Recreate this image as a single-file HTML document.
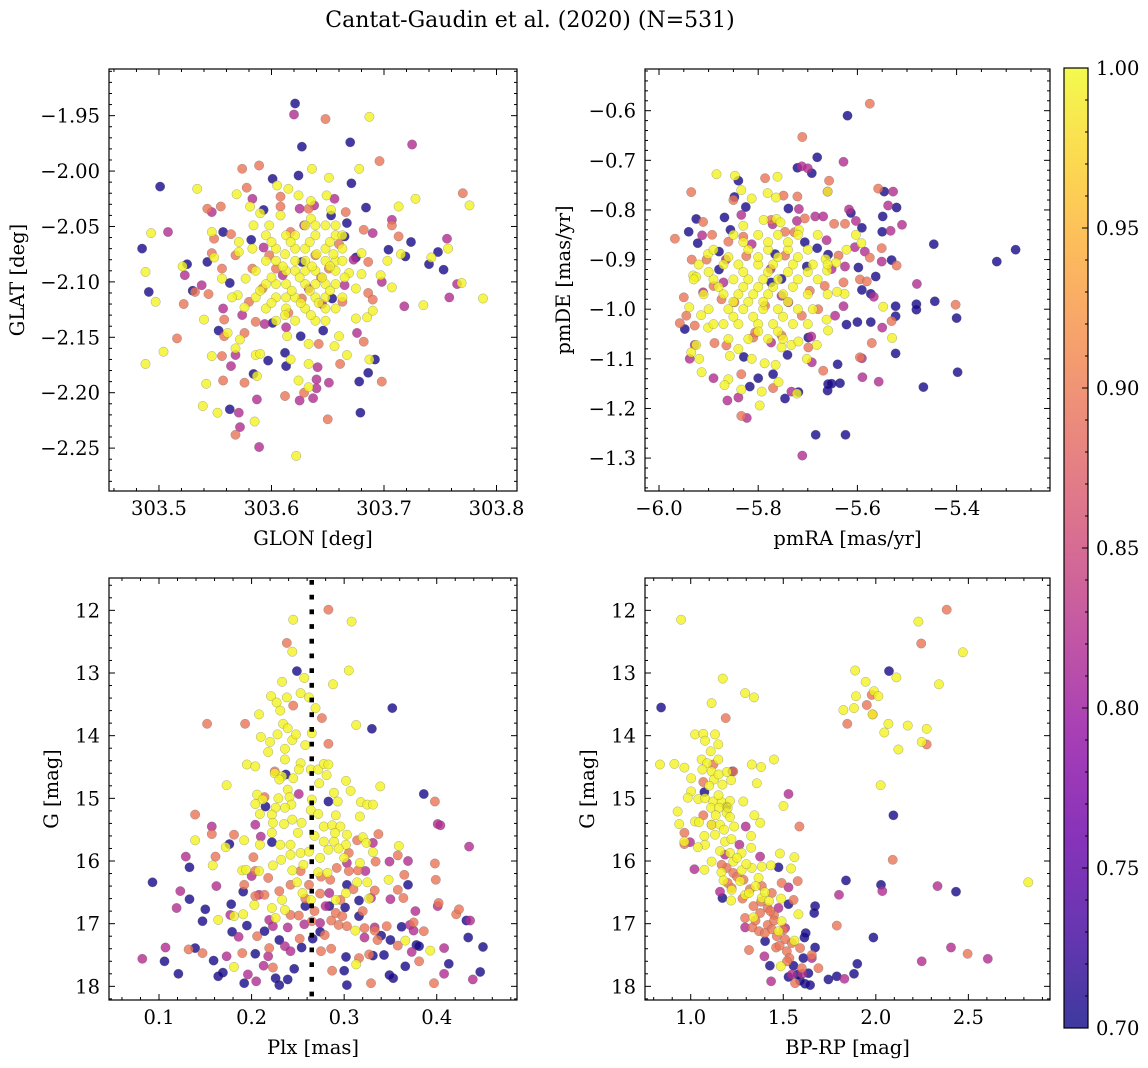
<!DOCTYPE html>
<html><head><meta charset="utf-8"><title>Cantat-Gaudin et al. (2020)</title>
<style>
html,body{margin:0;padding:0;background:#fff;}
svg{display:block;font-family:"DejaVu Serif","Liberation Serif",serif;}
</style></head>
<body>
<svg id="fig" width="1148" height="1068" viewBox="0 0 1148 1068" xmlns="http://www.w3.org/2000/svg">
<defs>
<linearGradient id="cbgrad" x1="0" y1="1" x2="0" y2="0">
<stop offset="0" stop-color="#0d0887"/><stop offset="0.1" stop-color="#41049d"/><stop offset="0.2" stop-color="#6a00a8"/><stop offset="0.3" stop-color="#8f0da4"/><stop offset="0.4" stop-color="#b12a90"/><stop offset="0.5" stop-color="#cc4778"/><stop offset="0.6" stop-color="#e16462"/><stop offset="0.7" stop-color="#f2844b"/><stop offset="0.8" stop-color="#fca636"/><stop offset="0.9" stop-color="#fcce25"/><stop offset="1" stop-color="#f0f921"/>
</linearGradient>
</defs>
<text x="530" y="27" font-size="22" text-anchor="middle">Cantat-Gaudin et al. (2020) (N=531)</text>
</svg>
<script>
// Probabilities per colour group
const probDark = 0.705, probPurple = 0.82, probSalmon = 0.895, probYellow = 0.995;

// Panel 1: GLON [deg], GLAT [deg]
const p1Dark = [[303.621,-1.939],[303.627,-1.978],[303.670,-1.974],[303.501,-2.014],[303.485,-2.070],[303.491,-2.109],[303.601,-2.007],[303.624,-2.004],[303.671,-2.011],[303.684,-2.033],[303.667,-2.047],[303.557,-2.055],[303.582,-2.062],[303.593,-2.035],[303.525,-2.084],[303.543,-2.082],[303.563,-2.101],[303.530,-2.108],[303.704,-2.071],[303.719,-2.077],[303.724,-2.064],[303.740,-2.084],[303.748,-2.073],[303.753,-2.089],[303.553,-2.144],[303.597,-2.171],[303.612,-2.164],[303.613,-2.176],[303.626,-2.149],[303.646,-2.144],[303.584,-2.183],[303.563,-2.215],[303.678,-2.190],[303.679,-2.218],[303.686,-2.182],[303.692,-2.170],[303.601,-2.137],[303.627,-2.082],[303.653,-2.040],[303.665,-2.059],[303.654,-2.115],[303.675,-2.078]];
const p1Purple = [[303.620,-1.949],[303.725,-1.976],[303.583,-2.025],[303.547,-2.037],[303.625,-2.034],[303.638,-2.031],[303.656,-2.025],[303.629,-2.049],[303.508,-2.055],[303.523,-2.094],[303.538,-2.103],[303.557,-2.124],[303.574,-2.130],[303.594,-2.138],[303.613,-2.141],[303.568,-2.166],[303.564,-2.176],[303.587,-2.206],[303.571,-2.218],[303.572,-2.231],[303.589,-2.249],[303.641,-2.177],[303.640,-2.188],[303.651,-2.191],[303.640,-2.196],[303.637,-2.205],[303.625,-2.207],[303.676,-2.146],[303.690,-2.056],[303.707,-2.044],[303.756,-2.061],[303.758,-2.114],[303.718,-2.122],[303.765,-2.102],[303.665,-2.103],[303.698,-2.100],[303.673,-2.080],[303.593,-2.069],[303.610,-2.094],[303.633,-2.106],[303.645,-2.120]];
const p1Salmon = [[303.648,-1.953],[303.696,-1.991],[303.574,-1.998],[303.589,-1.995],[303.578,-2.015],[303.608,-2.023],[303.608,-2.032],[303.543,-2.034],[303.555,-2.032],[303.666,-2.037],[303.682,-2.053],[303.707,-2.049],[303.713,-2.059],[303.770,-2.020],[303.564,-2.057],[303.549,-2.061],[303.547,-2.074],[303.568,-2.076],[303.556,-2.088],[303.544,-2.111],[303.532,-2.109],[303.522,-2.120],[303.516,-2.151],[303.558,-2.134],[303.558,-2.149],[303.576,-2.146],[303.556,-2.167],[303.557,-2.189],[303.576,-2.191],[303.612,-2.203],[303.629,-2.200],[303.650,-2.224],[303.568,-2.238],[303.642,-2.156],[303.661,-2.174],[303.682,-2.154],[303.698,-2.190],[303.686,-2.110],[303.690,-2.116],[303.686,-2.082],[303.617,-2.055],[303.633,-2.034],[303.586,-2.136],[303.580,-2.118],[303.592,-2.106],[303.604,-2.088],[303.627,-2.115],[303.639,-2.076],[303.663,-2.118],[303.651,-2.088],[303.583,-2.088],[303.598,-2.076],[303.644,-2.096],[303.615,-2.128],[303.660,-2.066]];
const p1Yellow = [[303.687,-1.951],[303.636,-1.998],[303.678,-1.998],[303.651,-2.006],[303.534,-2.016],[303.569,-2.021],[303.615,-2.016],[303.624,-2.022],[303.605,-2.013],[303.728,-2.025],[303.713,-2.032],[303.776,-2.031],[303.493,-2.056],[303.488,-2.091],[303.497,-2.118],[303.521,-2.086],[303.547,-2.055],[303.549,-2.078],[303.556,-2.097],[303.540,-2.134],[303.504,-2.163],[303.488,-2.174],[303.542,-2.192],[303.539,-2.212],[303.552,-2.218],[303.585,-2.226],[303.622,-2.257],[303.547,-2.167],[303.561,-2.146],[303.572,-2.152],[303.568,-2.160],[303.586,-2.166],[303.590,-2.165],[303.587,-2.185],[303.617,-2.170],[303.624,-2.189],[303.633,-2.195],[303.633,-2.174],[303.633,-2.156],[303.656,-2.158],[303.660,-2.149],[303.667,-2.166],[303.687,-2.170],[303.675,-2.133],[303.685,-2.132],[303.690,-2.126],[303.707,-2.105],[303.735,-2.121],[303.788,-2.115],[303.769,-2.101],[303.757,-2.070],[303.742,-2.078],[303.703,-2.081],[303.715,-2.075],[303.697,-2.094],[303.680,-2.093],[303.680,-2.074],[303.669,-2.092],[303.675,-2.106],[303.649,-2.022],[303.635,-2.027],[303.653,-2.035],[303.635,-2.043],[303.581,-2.032],[303.584,-2.049],[303.598,-2.049],[303.590,-2.038],[303.608,-2.040],[303.571,-2.064],[303.571,-2.073],[303.583,-2.070],[303.570,-2.112],[303.577,-2.097],[303.576,-2.123],[303.565,-2.114],[303.614,-2.149],
[303.630,-2.049],[303.639,-2.049],[303.648,-2.049],[303.657,-2.049],
[303.595,-2.058],[303.613,-2.058],[303.621,-2.058],[303.639,-2.058],[303.657,-2.058],[303.663,-2.058],
[303.604,-2.070],[303.621,-2.070],[303.630,-2.070],[303.648,-2.070],[303.663,-2.070],
[303.595,-2.081],[303.604,-2.081],[303.621,-2.081],[303.630,-2.081],[303.648,-2.081],[303.657,-2.081],[303.663,-2.081],
[303.586,-2.090],[303.613,-2.090],[303.621,-2.090],[303.630,-2.090],[303.639,-2.090],[303.657,-2.090],
[303.595,-2.102],[303.604,-2.102],[303.613,-2.102],[303.630,-2.102],[303.639,-2.102],[303.648,-2.102],[303.657,-2.102],
[303.586,-2.114],[303.604,-2.114],[303.613,-2.114],[303.621,-2.114],[303.639,-2.114],[303.648,-2.114],[303.663,-2.114],
[303.595,-2.124],[303.613,-2.124],[303.630,-2.124],[303.648,-2.124],[303.657,-2.124],
[303.604,-2.135],[303.621,-2.135],[303.639,-2.135],[303.648,-2.135],
[303.600,-2.064],[303.617,-2.064],[303.634,-2.064],[303.652,-2.064],
[303.612,-2.075],[303.640,-2.075],[303.655,-2.075],
[303.610,-2.086],[303.636,-2.086],[303.652,-2.086],
[303.600,-2.096],[303.625,-2.096],[303.645,-2.096],[303.665,-2.096],
[303.590,-2.108],[303.618,-2.108],[303.634,-2.108],[303.652,-2.108],
[303.600,-2.119],[303.626,-2.119],[303.642,-2.119],
[303.612,-2.130],[303.635,-2.130]];

// Panel 2: pmRA, pmDE [mas/yr]
const p2Dark = [[-5.620,-0.610],[-5.681,-0.694],[-5.721,-0.715],[-5.692,-0.726],[-5.840,-0.741],[-5.848,-0.774],[-5.825,-0.794],[-5.546,-0.763],[-5.521,-0.795],[-5.549,-0.813],[-5.550,-0.844],[-5.613,-0.806],[-5.591,-0.836],[-5.739,-0.797],[-5.925,-0.818],[-5.940,-0.844],[-5.922,-0.867],[-5.868,-0.815],[-5.856,-0.840],[-5.879,-0.884],[-5.681,-0.877],[-5.702,-0.914],[-5.531,-0.901],[-5.446,-0.869],[-5.319,-0.904],[-5.281,-0.880],[-5.598,-0.916],[-5.563,-0.934],[-5.591,-0.961],[-5.573,-0.969],[-5.523,-0.994],[-5.481,-0.990],[-5.481,-1.001],[-5.444,-0.984],[-5.523,-1.014],[-5.400,-1.018],[-5.622,-1.031],[-5.600,-1.026],[-5.573,-1.026],[-5.523,-1.089],[-5.398,-1.127],[-5.467,-1.157],[-5.640,-1.111],[-5.659,-1.151],[-5.652,-1.150],[-5.635,-1.149],[-5.660,-1.164],[-5.746,-1.180],[-5.770,-1.131],[-5.800,-1.139],[-5.817,-1.156],[-5.829,-1.096],[-5.741,-1.092],[-5.719,-1.167],[-5.684,-1.253],[-5.624,-1.253],[-5.948,-1.040],[-5.699,-1.057],[-5.774,-0.946],[-5.753,-0.939],[-5.706,-0.865],[-5.659,-0.890],[-5.879,-0.920],[-5.766,-0.889]];
const p2Purple = [[-5.712,-0.712],[-5.700,-0.716],[-5.628,-0.703],[-5.660,-0.763],[-5.528,-0.763],[-5.538,-0.791],[-5.510,-0.830],[-5.533,-0.842],[-5.617,-0.799],[-5.603,-0.822],[-5.834,-0.810],[-5.913,-0.851],[-5.718,-0.798],[-5.722,-0.822],[-5.685,-0.813],[-5.669,-0.813],[-5.662,-0.861],[-5.605,-0.875],[-5.585,-0.884],[-5.551,-0.904],[-5.480,-0.949],[-5.567,-0.975],[-5.550,-1.037],[-5.628,-0.994],[-5.645,-1.013],[-5.693,-1.055],[-5.692,-1.107],[-5.591,-1.099],[-5.590,-1.137],[-5.557,-1.146],[-5.862,-1.184],[-5.840,-1.178],[-5.823,-1.219],[-5.711,-1.295],[-5.733,-1.166],[-5.890,-1.139],[-5.938,-1.100],[-5.928,-1.072],[-5.813,-0.869],[-5.865,-0.900],[-5.775,-0.919],[-5.753,-0.973],[-5.774,-1.067],[-5.739,-0.986],[-5.625,-0.914],[-5.870,-0.946],[-5.911,-0.966],[-5.771,-0.829],[-5.652,-0.919]];
const p2Salmon = [[-5.575,-0.586],[-5.711,-0.653],[-5.657,-0.741],[-5.786,-0.736],[-5.935,-0.764],[-5.749,-0.771],[-5.721,-0.773],[-5.558,-0.757],[-5.850,-0.780],[-5.968,-0.858],[-5.911,-0.824],[-5.893,-0.850],[-5.860,-0.864],[-5.830,-0.854],[-5.774,-0.820],[-5.746,-0.844],[-5.727,-0.845],[-5.706,-0.817],[-5.647,-0.828],[-5.625,-0.828],[-5.934,-0.900],[-5.904,-0.900],[-5.551,-0.877],[-5.575,-0.896],[-5.521,-0.912],[-5.595,-0.940],[-5.581,-0.944],[-5.402,-0.991],[-5.531,-1.024],[-5.571,-1.068],[-5.595,-1.097],[-5.669,-1.124],[-5.770,-1.159],[-5.834,-1.131],[-5.834,-1.215],[-5.950,-0.976],[-5.958,-1.028],[-5.945,-1.013],[-5.928,-1.033],[-5.888,-1.068],[-5.864,-1.073],[-5.810,-1.057],[-5.753,-1.053],[-5.699,-1.077],[-5.824,-0.893],[-5.874,-0.980],[-5.848,-0.986],[-5.696,-0.963],[-5.666,-0.953],[-5.679,-1.000],[-5.806,-1.047],[-5.890,-0.953],[-5.746,-0.892],[-5.638,-0.892],[-5.712,-1.013],[-5.786,-0.993],[-5.628,-0.946]];
const p2Yellow = [[-5.884,-0.728],[-5.847,-0.731],[-5.761,-0.733],[-5.834,-0.760],[-5.813,-0.777],[-5.781,-0.766],[-5.764,-0.775],[-5.660,-0.763],[-5.830,-0.832],[-5.789,-0.820],[-5.763,-0.818],[-5.755,-0.825],[-5.718,-0.840],[-5.603,-0.850],[-5.592,-0.867],[-5.622,-0.880],[-5.901,-0.889],[-5.931,-0.932],[-5.925,-0.935],[-5.939,-0.996],[-5.915,-1.012],[-5.901,-1.037],[-5.925,-1.072],[-5.935,-1.087],[-5.919,-1.100],[-5.914,-1.127],[-5.890,-1.030],[-5.860,-1.141],[-5.868,-1.153],[-5.834,-1.162],[-5.797,-1.194],[-5.793,-1.166],[-5.759,-1.147],[-5.722,-1.170],[-5.787,-1.109],[-5.765,-1.112],[-5.753,-1.077],[-5.733,-1.072],[-5.719,-1.065],[-5.682,-1.072],[-5.702,-1.100],[-5.659,-1.043],[-5.662,-1.021],[-5.548,-0.995],[-5.530,-1.058],[-5.626,-0.969],[-5.641,-0.965],[-5.661,-0.922],[-5.643,-0.906],[-5.664,-0.899],[-5.840,-1.080],[-5.813,-1.100],[-5.857,-1.094],
[-5.85,-0.85],[-5.80,-0.85],[-5.76,-0.85],[-5.72,-0.85],[-5.68,-0.85],
[-5.89,-0.88],[-5.82,-0.88],[-5.78,-0.88],[-5.74,-0.88],[-5.70,-0.88],
[-5.92,-0.91],[-5.87,-0.91],[-5.84,-0.91],[-5.80,-0.91],[-5.77,-0.91],[-5.73,-0.91],[-5.69,-0.91],[-5.66,-0.91],
[-5.93,-0.94],[-5.89,-0.94],[-5.85,-0.94],[-5.82,-0.94],[-5.79,-0.94],[-5.76,-0.94],[-5.72,-0.94],[-5.68,-0.94],
[-5.91,-0.97],[-5.87,-0.97],[-5.84,-0.97],[-5.81,-0.97],[-5.78,-0.97],[-5.75,-0.97],[-5.70,-0.97],[-5.66,-0.97],
[-5.90,-1.00],[-5.86,-1.00],[-5.83,-1.00],[-5.79,-1.00],[-5.76,-1.00],[-5.72,-1.00],[-5.69,-1.00],
[-5.87,-1.03],[-5.84,-1.03],[-5.80,-1.03],[-5.77,-1.03],[-5.73,-1.03],[-5.70,-1.03],
[-5.86,-1.06],[-5.82,-1.06],[-5.78,-1.06],[-5.75,-1.06],
[-5.83,-0.865],[-5.78,-0.865],[-5.74,-0.865],
[-5.86,-0.895],[-5.80,-0.895],[-5.76,-0.895],[-5.72,-0.895],
[-5.90,-0.925],[-5.83,-0.925],[-5.78,-0.925],[-5.74,-0.925],[-5.70,-0.925],
[-5.88,-0.955],[-5.83,-0.955],[-5.80,-0.955],[-5.77,-0.955],[-5.73,-0.955],
[-5.85,-0.985],[-5.82,-0.985],[-5.79,-0.985],[-5.74,-0.985],
[-5.85,-1.015],[-5.81,-1.015],[-5.75,-1.015],
[-5.80,-1.045],[-5.76,-1.045]];

// Panel 3: Plx [mas], G [mag]
const p3Dark = [[0.249,12.97],[0.352,13.56],[0.330,13.89],[0.386,14.93],[0.283,15.05],[0.215,15.13],[0.237,14.62],[0.222,15.70],[0.176,15.73],[0.133,16.10],[0.093,16.34],[0.133,16.61],[0.150,16.77],[0.147,16.96],[0.178,16.69],[0.191,16.49],[0.195,17.03],[0.179,17.13],[0.214,17.12],[0.230,17.26],[0.254,17.38],[0.266,17.24],[0.274,17.13],[0.204,17.48],[0.139,17.39],[0.106,17.60],[0.121,17.80],[0.159,17.59],[0.164,17.84],[0.169,17.78],[0.192,17.95],[0.226,17.87],[0.239,17.89],[0.230,17.98],[0.246,17.72],[0.302,17.53],[0.303,17.98],[0.300,17.75],[0.331,17.51],[0.343,17.50],[0.353,17.87],[0.349,17.82],[0.366,17.68],[0.378,17.34],[0.362,17.05],[0.340,17.19],[0.316,16.88],[0.316,16.63],[0.301,16.74],[0.284,16.72],[0.258,16.72],[0.303,16.38],[0.369,16.38],[0.413,17.64],[0.434,17.22],[0.432,16.95],[0.447,17.77],[0.450,17.37],[0.381,17.36],[0.350,17.26]];
const p3Purple = [[0.157,15.45],[0.129,15.93],[0.123,16.48],[0.162,16.40],[0.119,16.75],[0.107,17.38],[0.082,17.56],[0.204,15.42],[0.251,14.93],[0.210,15.61],[0.200,16.24],[0.208,16.54],[0.177,16.86],[0.219,16.94],[0.223,17.04],[0.239,17.06],[0.186,17.21],[0.218,17.52],[0.236,17.36],[0.173,17.52],[0.196,17.81],[0.205,17.92],[0.213,17.67],[0.274,16.99],[0.280,16.72],[0.257,17.01],[0.331,15.71],[0.349,16.01],[0.369,16.00],[0.350,16.61],[0.377,16.80],[0.371,17.02],[0.375,17.11],[0.322,17.22],[0.333,17.06],[0.373,17.45],[0.401,15.41],[0.404,15.43],[0.435,15.77],[0.401,16.72],[0.408,17.39],[0.408,17.80],[0.436,16.95],[0.439,17.89],[0.303,16.03],[0.323,16.16],[0.329,16.59],[0.284,16.51],[0.242,17.44]];
const p3Salmon = [[0.283,11.99],[0.238,12.52],[0.245,13.52],[0.276,13.72],[0.152,13.81],[0.193,13.81],[0.283,14.13],[0.225,14.57],[0.214,14.98],[0.139,15.26],[0.157,15.57],[0.181,15.58],[0.161,15.93],[0.202,15.94],[0.398,15.05],[0.337,15.57],[0.314,15.67],[0.305,15.87],[0.334,16.01],[0.398,16.04],[0.358,15.91],[0.365,16.22],[0.399,16.30],[0.358,16.46],[0.364,16.59],[0.333,16.47],[0.402,16.67],[0.421,16.85],[0.424,16.77],[0.375,16.98],[0.386,17.12],[0.218,16.27],[0.214,16.54],[0.192,16.38],[0.204,16.56],[0.242,16.86],[0.251,16.87],[0.265,16.96],[0.286,16.95],[0.294,17.02],[0.303,17.04],[0.291,16.83],[0.322,17.07],[0.333,17.11],[0.346,17.04],[0.336,17.26],[0.358,17.35],[0.327,17.49],[0.316,17.55],[0.206,17.20],[0.219,17.39],[0.190,17.47],[0.223,17.70],[0.252,17.24],[0.275,17.44],[0.286,17.40],[0.279,17.18],[0.147,17.47],[0.132,17.41],[0.287,17.75],[0.329,17.95],[0.381,17.60],[0.397,17.95],[0.305,16.16],[0.315,16.15],[0.292,16.11],[0.262,16.38],[0.274,16.52],[0.268,16.80],[0.298,16.88],[0.242,16.38],[0.204,16.16],[0.230,16.48],[0.253,16.16],[0.285,16.30],[0.310,16.45],[0.258,16.60],[0.296,16.62],[0.320,16.80],[0.275,16.25]];
const p3Yellow = [[0.245,12.15],[0.308,12.18],[0.244,12.66],[0.305,12.96],[0.257,13.08],[0.233,13.14],[0.288,13.18],[0.221,13.37],[0.238,13.39],[0.253,13.32],[0.262,13.39],[0.227,13.47],[0.231,13.60],[0.269,13.56],[0.208,13.66],[0.313,13.83],[0.234,13.81],[0.239,13.88],[0.210,14.02],[0.228,13.98],[0.220,14.10],[0.244,14.07],[0.248,13.98],[0.265,13.96],[0.218,14.26],[0.236,14.21],[0.258,14.15],[0.195,14.46],[0.204,14.49],[0.236,14.38],[0.253,14.44],[0.251,14.54],[0.264,14.54],[0.272,14.54],[0.278,14.45],[0.283,14.46],[0.225,14.60],[0.233,14.65],[0.245,14.68],[0.230,14.70],[0.281,14.63],[0.273,14.76],[0.302,14.72],[0.307,14.88],[0.173,14.79],[0.339,14.81],[0.289,14.91],[0.239,14.86],[0.206,14.94],[0.212,15.02],[0.204,15.09],[0.229,15.00],[0.241,14.98],[0.243,15.10],[0.236,15.15],[0.226,15.15],[0.265,15.02],[0.293,15.05],[0.318,15.06],[0.325,15.10],[0.331,15.10],[0.209,15.25],[0.222,15.26],[0.264,15.19],[0.272,15.25],[0.291,15.27],[0.317,15.29],[0.223,15.39],[0.235,15.41],[0.244,15.34],[0.254,15.39],[0.278,15.45],[0.287,15.43],[0.296,15.45],[0.222,15.55],[0.209,15.74],[0.231,15.74],[0.242,15.74],[0.278,15.69],[0.289,15.69],[0.303,15.58],[0.320,15.62],[0.324,15.71],[0.302,15.74],[0.294,15.80],[0.359,15.76],[0.139,15.67],[0.172,15.78],[0.192,15.67],[0.253,15.87],[0.242,15.90],[0.274,15.95],[0.283,15.82],[0.331,15.86],[0.158,16.07],[0.190,16.15],[0.194,16.14],[0.208,16.16],[0.223,16.07],[0.244,16.15],[0.256,16.06],[0.272,16.18],[0.282,16.19],[0.317,16.03],[0.348,16.30],[0.249,16.34],[0.314,16.34],[0.325,16.34],[0.302,16.51],[0.327,16.60],[0.291,16.62],[0.264,16.62],[0.255,16.51],[0.233,16.62],[0.203,16.70],[0.222,16.75],[0.236,16.78],[0.164,16.94],[0.191,16.85],[0.181,16.88],[0.226,16.91],[0.312,17.11],[0.366,17.27],[0.393,17.43],[0.313,17.65],[0.181,17.69],[0.250,15.55],[0.268,15.60],[0.232,15.98],[0.262,15.85],[0.290,15.55],[0.300,15.95]];

// Panel 4: BP-RP [mag], G [mag]
const p4Dark = [[0.840,13.55],[2.071,12.97],[2.095,15.27],[1.839,16.31],[2.028,16.38],[2.433,16.49],[1.987,17.22],[1.900,17.64],[1.882,17.80],[1.789,17.84],[1.744,17.89],[1.672,17.38],[1.614,17.22],[1.621,17.15],[1.672,16.72],[1.667,16.83],[1.528,16.69],[1.474,16.10],[1.074,14.90],[1.194,15.13],[1.171,16.59],[1.225,14.57],[1.428,17.67],[1.578,17.81],[1.636,17.79],[1.618,17.96],[1.645,17.98],[1.591,17.91],[1.528,17.85],[1.555,17.67],[1.609,17.55],[1.402,17.28]];
const p4Purple = [[1.528,14.93],[1.297,15.45],[1.020,16.13],[1.375,15.93],[1.528,16.42],[1.801,16.54],[2.035,16.48],[2.333,16.40],[2.406,17.38],[2.248,17.60],[2.605,17.56],[1.830,17.88],[1.434,17.92],[1.294,17.06],[1.398,17.52],[1.546,17.81],[1.603,17.80],[1.654,17.55],[1.474,16.75],[1.158,16.49],[1.263,15.74],[0.996,15.70],[1.185,15.90],[1.510,17.07]];
const p4Salmon = [[2.383,11.99],[2.245,12.53],[1.189,13.72],[1.951,13.51],[1.978,13.35],[1.983,13.66],[1.846,13.81],[2.275,14.14],[1.230,14.57],[1.068,14.74],[1.122,14.46],[1.068,15.27],[0.966,15.55],[0.966,15.73],[1.113,15.42],[1.587,15.45],[2.091,15.98],[1.578,16.32],[1.491,16.35],[1.556,16.62],[1.789,17.03],[1.315,17.42],[2.496,17.48],[1.690,17.71],[1.564,17.95],[1.194,16.11],[1.230,16.19],[1.285,16.30],[1.384,16.40],[1.438,16.51],[1.416,16.75],[1.375,16.83],[1.450,16.86],[1.416,17.02],[1.333,17.06],[1.465,17.20],[1.510,17.25],[1.546,17.31],[1.461,17.38],[1.519,17.44],[1.591,17.39],[1.654,17.50],[1.600,17.71],[1.533,17.55],[1.294,16.91],[1.339,16.72],[1.221,16.43],[1.438,17.09],[1.369,17.12],[1.167,16.06],[1.25,16.25],[1.32,16.45],[1.38,16.65],[1.45,16.95],[1.40,17.15],[1.48,17.35],[1.52,17.60],[1.28,16.60],[1.35,16.95],[1.20,16.35],[1.43,16.80],[1.50,17.10]];
const p4Yellow = [[0.948,12.15],[2.230,12.18],[2.470,12.67],[1.888,12.96],[1.173,13.09],[2.111,13.07],[1.294,13.32],[1.342,13.39],[2.341,13.18],[1.945,13.14],[1.113,13.48],[1.990,13.29],[2.014,13.37],[1.893,13.37],[1.825,13.59],[1.882,13.56],[1.982,13.66],[2.068,13.81],[2.172,13.84],[2.275,13.89],[2.046,13.95],[2.248,14.10],[2.122,14.22],[2.026,14.79],[2.824,16.34],[1.023,13.98],[1.068,13.97],[1.131,13.98],[1.077,14.08],[1.149,14.14],[1.108,14.25],[0.834,14.46],[0.912,14.45],[0.966,14.51],[1.059,14.38],[1.089,14.44],[1.149,14.38],[1.063,14.54],[1.113,14.57],[1.195,14.58],[1.330,14.46],[1.380,14.50],[1.450,14.38],[1.357,14.76],[1.002,14.68],[1.125,14.70],[1.150,14.62],[1.218,14.71],[1.171,14.78],[1.002,14.89],[0.984,14.99],[1.041,15.01],[1.077,15.00],[1.122,15.05],[1.167,15.06],[1.212,15.04],[1.284,15.05],[1.110,15.15],[1.153,15.15],[1.194,15.23],[1.135,15.27],[0.929,15.21],[0.938,15.41],[1.023,15.37],[1.045,15.38],[1.113,15.42],[1.158,15.42],[1.212,15.30],[1.235,15.45],[1.344,15.27],[1.376,15.39],[1.501,15.12],[1.074,15.60],[1.131,15.58],[1.185,15.69],[1.077,15.74],[1.038,15.78],[0.966,15.69],[1.158,15.84],[1.212,15.87],[1.275,15.87],[1.326,15.79],[1.326,15.60],[1.113,16.01],[1.230,16.01],[1.074,16.14],[1.166,16.18],[1.275,16.15],[1.330,16.11],[1.384,16.09],[1.433,16.07],[1.482,15.88],[1.560,15.94],[1.542,16.12],[1.177,16.31],[1.267,16.32],[1.366,16.27],[1.221,16.46],[1.294,16.54],[1.384,16.59],[1.488,16.60],[1.423,16.64],[1.339,16.90],[1.582,16.85],[1.474,17.12],[1.560,17.27],[1.486,17.68],[1.491,16.96],[1.218,16.63],[1.315,16.51],[1.10,14.80],[1.15,14.95],[1.20,15.15],[1.18,15.50],[1.22,15.65],[1.25,15.95],[1.30,16.05],[1.35,16.40],[1.40,16.50]];

// Tick label arrays
const p1XTicks = [303.5, 303.6, 303.7, 303.8];
const p1YTicks = [-1.95, -2.00, -2.05, -2.10, -2.15, -2.20, -2.25];
const p2XTicks = [-6.0, -5.8, -5.6, -5.4];
const p2YTicks = [-0.6, -0.7, -0.8, -0.9, -1.0, -1.1, -1.2, -1.3];
const p3XTicks = [0.1, 0.2, 0.3, 0.4];
const gTicks = [12, 13, 14, 15, 16, 17, 18];
const p4XTicks = [1.0, 1.5, 2.0, 2.5];
const cbTicks = [0.70, 0.75, 0.80, 0.85, 0.90, 0.95, 1.00];
const plxCut = 0.265;

const NS = "http://www.w3.org/2000/svg";
const svg = document.getElementById('fig');
const FS = 19.5;
function mk(tag, attrs, parent) {
  const e = document.createElementNS(NS, tag);
  for (const k in attrs) e.setAttribute(k, attrs[k]);
  (parent || svg).appendChild(e);
  return e;
}
const stops = [[13,8,135],[65,4,157],[106,0,168],[143,13,164],[177,42,144],[204,71,120],[225,100,98],[242,132,75],[252,166,54],[252,206,37],[240,249,33]];
function plasma(p) {
  let t = (p - 0.70) / 0.30; t = Math.max(0, Math.min(1, t));
  const f = t * 10, i = Math.min(9, Math.floor(f)), u = f - i;
  const a = stops[i], b = stops[i + 1];
  return 'rgb(' + [0,1,2].map(k => Math.round(a[k] + (b[k] - a[k]) * u)).join(',') + ')';
}
function fmt(v, d) { const s = Math.abs(v).toFixed(d); return (v < 0 ? '\u2212' : '') + s; }

function panel(cfg) {
  const g = mk('g', {});
  
  
  const sx = v => cfg.px0 + (v - cfg.xmin) / (cfg.xmax - cfg.xmin) * (cfg.px1 - cfg.px0);
  const sy = v => cfg.py0 + (cfg.ytop - v) / (cfg.ytop - cfg.ybot) * (cfg.py1 - cfg.py0);
  const series = [[cfg.dark, probDark, 'dark'], [cfg.purple, probPurple, 'purple'], [cfg.salmon, probSalmon, 'salmon'], [cfg.yellow, probYellow, 'yellow']];
  series.forEach(([pts, pr, nm]) => {
    const sg = mk('g', {}, g);
    
    
    pts.forEach(pt => {
      const c = mk('circle', { cx: sx(pt[0]).toFixed(1), cy: sy(pt[1]).toFixed(1), r: 4.7, fill: plasma(pr), 'fill-opacity': 0.8, stroke: '#555', 'stroke-width': 0.4, 'stroke-opacity': 0.6 }, sg);
      
      
    });
  });
  if (cfg.vline !== undefined) {
    const l = mk('line', { x1: sx(cfg.vline), x2: sx(cfg.vline), y1: cfg.py0 + 2, y2: cfg.py1, stroke: '#000', 'stroke-width': 4.5, 'stroke-dasharray': '4.8 9.9' }, g);
    
    
  }
  const fr = mk('rect', { x: cfg.px0, y: cfg.py0, width: cfg.px1 - cfg.px0, height: cfg.py1 - cfg.py0, fill: 'none', stroke: '#000', 'stroke-width': 1.2 }, g);
  
  
  const tg = mk('g', { stroke: '#000', 'stroke-width': 1 }, g);
  
  
  const eps = 1e-9;
  const lo = Math.min(cfg.xmin, cfg.xmax), hi = Math.max(cfg.xmin, cfg.xmax);
  for (let v = Math.ceil(lo / cfg.xminor - eps) * cfg.xminor; v <= hi + eps; v += cfg.xminor) {
    const major = Math.abs(v / cfg.xmajor - Math.round(v / cfg.xmajor)) < 1e-6;
    const L = major ? 6 : 3, x = sx(v);
    mk('line', { x1: x, x2: x, y1: cfg.py1, y2: cfg.py1 - L }, tg);
    mk('line', { x1: x, x2: x, y1: cfg.py0, y2: cfg.py0 + L }, tg);
  }
  const ylo = Math.min(cfg.ytop, cfg.ybot), yhi = Math.max(cfg.ytop, cfg.ybot);
  for (let v = Math.ceil(ylo / cfg.yminor - eps) * cfg.yminor; v <= yhi + eps; v += cfg.yminor) {
    const major = Math.abs(v / cfg.ymajor - Math.round(v / cfg.ymajor)) < 1e-6;
    const L = major ? 6 : 3, y = sy(v);
    mk('line', { x1: cfg.px0, x2: cfg.px0 + L, y1: y, y2: y }, tg);
    mk('line', { x1: cfg.px1, x2: cfg.px1 - L, y1: y, y2: y }, tg);
  }
  cfg.xticks.forEach(v => {
    const t = mk('text', { x: sx(v), y: cfg.py1 + 24, 'font-size': FS, 'text-anchor': 'middle' }, g);
    t.textContent = fmt(v, cfg.xdec);
    
    
  });
  cfg.yticks.forEach(v => {
    const t = mk('text', { x: cfg.px0 - 9, y: sy(v) + 7, 'font-size': FS, 'text-anchor': 'end' }, g);
    t.textContent = fmt(v, cfg.ydec);
    
    
  });
  const xl = mk('text', { x: (cfg.px0 + cfg.px1) / 2, y: cfg.py1 + 54, 'font-size': FS, 'text-anchor': 'middle' }, g);
  xl.textContent = cfg.xlabel;
  
  
  const yc = (cfg.py0 + cfg.py1) / 2;
  const yl = mk('text', { x: cfg.ylx, y: yc, 'font-size': FS, 'text-anchor': 'middle', transform: 'rotate(-90 ' + cfg.ylx + ' ' + yc + ')' }, g);
  yl.textContent = cfg.ylabel;
  
  
}

panel({ name: 'panel-glon-glat', px0: 109, px1: 517, py0: 69, py1: 491, xmin: 303.4556, xmax: 303.8182, ytop: -1.9079, ybot: -2.2887,
  xmajor: 0.1, xminor: 0.02, ymajor: 0.05, yminor: 0.01, xticks: p1XTicks, yticks: p1YTicks, xdec: 1, ydec: 2,
  xlabel: 'GLON [deg]', ylabel: 'GLAT [deg]', ylx: 24, dark: p1Dark, purple: p1Purple, salmon: p1Salmon, yellow: p1Yellow });
panel({ name: 'panel-pmra-pmde', px0: 645, px1: 1050, py0: 69, py1: 491, xmin: -6.0282, xmax: -5.2117, ytop: -0.5160, ybot: -1.3663,
  xmajor: 0.2, xminor: 0.05, ymajor: 0.1, yminor: 0.02, xticks: p2XTicks, yticks: p2YTicks, xdec: 1, ydec: 1,
  xlabel: 'pmRA [mas/yr]', ylabel: 'pmDE [mas/yr]', ylx: 570, dark: p2Dark, purple: p2Purple, salmon: p2Salmon, yellow: p2Yellow });
panel({ name: 'panel-plx-g', px0: 109, px1: 517, py0: 578, py1: 1000, xmin: 0.046, xmax: 0.4867, ytop: 11.484, ybot: 18.218,
  xmajor: 0.1, xminor: 0.02, ymajor: 1, yminor: 0.2, xticks: p3XTicks, yticks: gTicks, xdec: 1, ydec: 0,
  xlabel: 'Plx [mas]', ylabel: 'G [mag]', ylx: 58, vline: plxCut, dark: p3Dark, purple: p3Purple, salmon: p3Salmon, yellow: p3Yellow });
panel({ name: 'panel-bprp-g', px0: 645, px1: 1050, py0: 578, py1: 1000, xmin: 0.753, xmax: 2.941, ytop: 11.484, ybot: 18.218,
  xmajor: 0.5, xminor: 0.1, ymajor: 1, yminor: 0.2, xticks: p4XTicks, yticks: gTicks, xdec: 1, ydec: 0,
  xlabel: 'BP-RP [mag]', ylabel: 'G [mag]', ylx: 594, dark: p4Dark, purple: p4Purple, salmon: p4Salmon, yellow: p4Yellow });

(function () {
  const x0 = 1064, x1 = 1088, y0 = 68, y1 = 1028;
  const g = mk('g', {});
  
  
  const r = mk('rect', { x: x0, y: y0, width: x1 - x0, height: y1 - y0, fill: 'url(#cbgrad)', 'fill-opacity': 0.8, stroke: '#000', 'stroke-width': 1.2 }, g);
  
  
  const sy = v => y1 - (v - 0.70) / 0.30 * (y1 - y0);
  for (let i = 0; i <= 30; i++) {
    const v = 0.70 + i * 0.01, major = i % 5 === 0;
    mk('line', { x1: x1, x2: x1 - (major ? 6 : 3), y1: sy(v), y2: sy(v), stroke: '#000', 'stroke-width': 1 }, g);
  }
  cbTicks.forEach(v => {
    const t = mk('text', { x: 1096, y: sy(v) + 7, 'font-size': FS }, g);
    t.textContent = v.toFixed(2);
    
    
  });
})();
</script>
</body></html>
